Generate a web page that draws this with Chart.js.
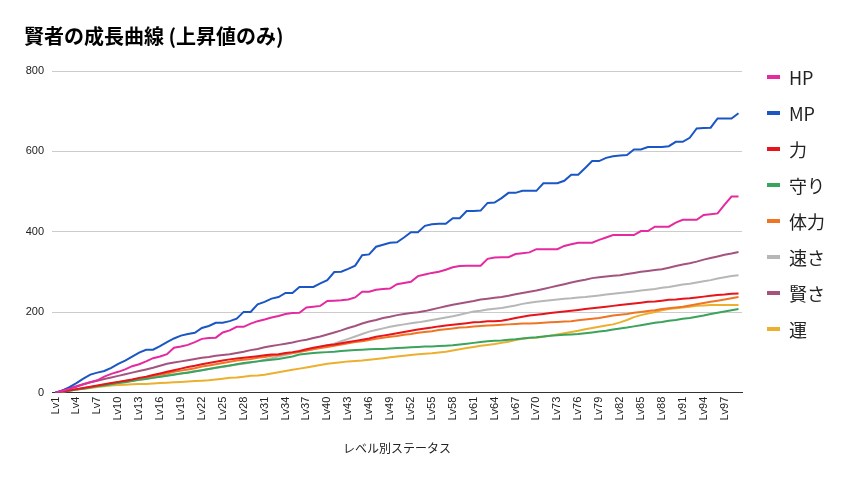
<!DOCTYPE html>
<html><head><meta charset="utf-8">
<script src="https://cdn.jsdelivr.net/npm/chart.js@4/dist/chart.umd.min.js"></script>
<style>html,body{margin:0;padding:0;background:#fff}#wrap{width:852px;height:480px}</style>
</head><body><div id="wrap"><canvas id="c" width="852" height="480"></canvas></div>
<script>
const levels = [];
for (let i = 1; i <= 99; i++) levels.push('Lv' + i);

const hp = [0,5,10,15,21,26,31,40,47,52,58,66,71,78,86,90,96,112,115,119,126,134,136,137,150,155,164,164,172,178,182,187,191,196,198,199,212,214,216,228,229,230,232,237,251,251,256,258,259,270,273,276,290,294,298,301,306,312,315,316,316,316,333,336,337,337,345,347,349,357,357,357,357,365,369,373,373,373,380,386,392,392,392,392,402,402,413,413,413,423,430,430,430,442,444,446,468,488,488];
const mp = [0,6,14,24,35,45,50,54,62,72,80,90,100,107,107,116,126,135,142,146,149,161,166,174,174,178,184,201,201,220,226,234,238,248,248,263,263,263,272,280,300,301,308,316,342,344,363,368,373,374,386,399,399,415,419,420,420,434,434,452,452,453,472,473,484,497,497,502,502,502,521,521,521,527,542,542,559,576,576,584,588,590,591,605,605,611,611,611,613,624,624,634,657,658,659,682,682,682,695];
const power = [0,3,6,9,12,15,18,21,24,27,30,33,37,40,44,48,52,56,60,64,67,71,74,77,80,83,85,87,89,91,93,95,96,99,101,104,108,112,115,118,120,123,126,129,132,135,139,142,145,148,151,154,157,160,162,165,167,169,171,173,175,176,178,178,179,182,186,189,192,194,196,198,200,202,204,206,208,210,212,214,216,218,220,222,224,226,227,229,231,232,234,235,237,239,241,243,244,246,247];
const defense = [0,3,5,8,10,13,16,18,21,24,26,29,32,34,37,40,42,45,48,50,53,56,59,62,65,68,71,74,76,78,80,82,84,87,90,95,97,99,100,101,102,104,105,106,107,108,109,109,110,111,112,113,114,115,115,116,117,118,120,122,124,126,128,129,130,132,133,135,137,138,140,142,143,144,145,146,148,150,152,154,157,160,162,165,168,171,174,176,179,181,184,186,189,192,196,199,202,205,208];
const stamina = [0,3,6,8,11,14,17,20,23,26,29,32,35,38,41,45,48,52,55,58,61,65,68,71,74,77,80,82,84,87,89,92,94,97,99,102,105,108,111,114,117,120,123,126,128,131,134,137,139,141,144,146,149,151,153,156,158,160,162,163,165,166,167,168,169,170,171,172,172,173,174,175,176,177,178,180,182,184,186,189,192,194,196,199,201,203,205,208,210,212,214,217,220,223,226,229,232,235,238];
const speed = [0,3,5,8,11,14,16,19,22,24,27,30,32,35,38,40,43,46,48,51,54,56,59,62,64,67,70,72,75,78,82,86,90,94,98,101,105,109,113,118,122,128,134,140,146,152,156,160,164,167,170,173,175,178,181,184,187,190,194,198,202,204,207,209,211,214,217,221,224,226,228,230,232,234,235,237,238,240,242,244,246,248,250,252,254,256,258,261,263,266,269,271,274,277,280,284,287,290,292];
const wisdom = [0,6,11,16,21,26,30,34,38,42,46,50,54,58,62,67,72,75,78,81,84,87,89,92,94,96,99,102,106,109,113,116,119,122,125,129,132,136,140,145,150,155,161,166,172,177,181,186,189,193,196,198,200,203,207,211,215,219,222,225,228,232,234,236,238,241,245,248,251,254,258,262,266,270,274,278,281,285,287,289,291,292,295,298,301,303,305,307,311,315,319,322,326,331,335,339,343,346,350];
const luck = [0,3,5,8,10,12,14,16,18,19,20,21,22,22,23,24,25,26,27,28,29,30,31,33,35,37,38,40,42,43,45,48,51,54,57,60,63,66,69,72,74,76,78,79,80,82,84,86,88,90,92,94,96,97,98,100,102,105,108,111,114,117,119,121,124,127,131,134,136,137,139,142,145,148,151,154,158,161,164,167,170,175,181,188,193,197,201,205,208,210,212,214,216,217,218,218,218,218,218];

const seriesNames = ['HP','MP','力','守り','体力','速さ','賢さ','運'];
const seriesData = [hp, mp, power, defense, stamina, speed, wisdom, luck];
const seriesColors = ['#e52aa0','#1a56c4','#e8141b','#3aa35c','#ef7524','#b7b7b7','#a4537f','#ecb02e'];
const yTicks = [0,200,400,600,800];

const datasets = seriesNames.map((n,i)=>({
  label:n, data:seriesData[i], borderColor:seriesColors[i], backgroundColor:seriesColors[i],
  borderWidth:2, pointRadius:0, tension:0, fill:false
}));

const sideLegend = {
  id:'sideLegend',
  afterDraw(chart){
    const ctx = chart.ctx;
    ctx.save();
    ctx.font = '18px "Noto Sans CJK JP"';
    ctx.textBaseline = 'middle';
    ctx.textAlign = 'left';
    chart.data.datasets.forEach((ds,i)=>{
      const cy = 77 + i*36;
      ctx.fillStyle = ds.borderColor;
      ctx.fillRect(767, cy-2, 13, 4);
      ctx.fillStyle = '#222';
      ctx.fillText(ds.label, 789, cy+1);
    });
    ctx.restore();
  }
};

new Chart(document.getElementById('c'), {
  type:'line',
  data:{labels:levels, datasets:datasets},
  plugins:[sideLegend],
  options:{
    responsive:false, animation:false, devicePixelRatio:1,
    layout:{padding:{left:24,right:110,top:0,bottom:20}},
    plugins:{
      title:{display:true, text:'賢者の成長曲線 (上昇値のみ)', align:'start', color:'#000',
        font:{family:'"Noto Sans CJK JP"', size:20, weight:'bold'}, padding:{top:24,bottom:23}},
      legend:{display:false},
      tooltip:{enabled:false}
    },
    scales:{
      x:{offset:true,
        grid:{display:false, drawTicks:false},
        border:{display:true, color:'#333', width:1},
        ticks:{autoSkip:false, maxRotation:90, minRotation:90, padding:4, color:'#222',
          font:{family:'"Liberation Sans"', size:11},
          callback:function(v,i){ return i%3===0 ? this.getLabelForValue(v) : ''; }},
        title:{display:true, text:'レベル別ステータス', color:'#222',
          font:{family:'"Noto Sans CJK JP"', size:12}, padding:{top:17}}
      },
      y:{min:0, max:800,
        afterBuildTicks:(s)=>{ s.ticks = yTicks.map(v=>({value:v})); },
        afterFit:(s)=>{ s.width = 28; },
        grid:{color:'#cccccc', drawTicks:false},
        border:{display:false},
        ticks:{padding:8, color:'#222', font:{family:'"Liberation Sans"', size:11}}
      }
    }
  }
});
</script></body></html>
